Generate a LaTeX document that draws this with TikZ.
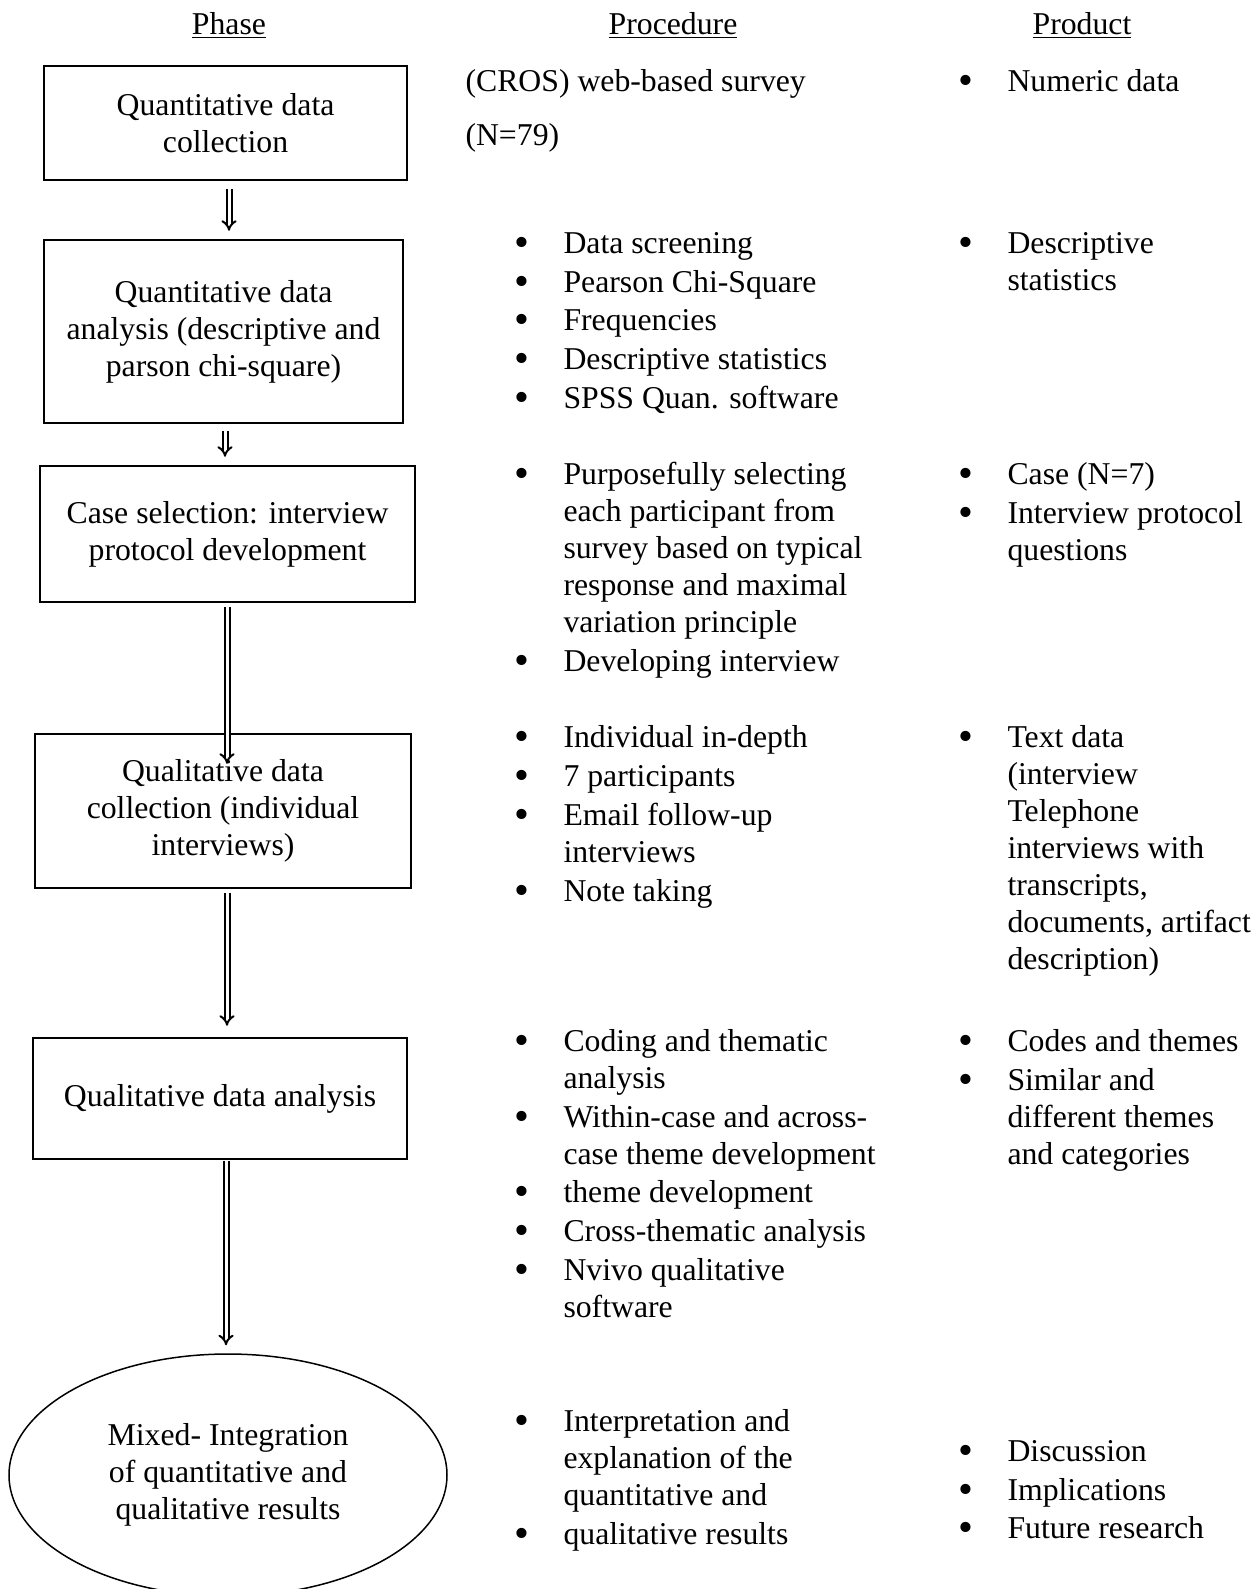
\documentclass[tikz,border=0pt]{standalone}
\usepackage{fontspec}
\setmainfont{Liberation Serif}
\usepackage{tikz}
\usetikzlibrary{arrows.meta, positioning, shapes.geometric, calc}
\newdimen\pxu
\pxu=0.4pt
\newcommand{\bl}{\llap{\raisebox{-1.2pt}{\fontsize{17pt}{17pt}\selectfont\textbullet}\hspace{13.6pt}}}

\begin{document}
\begin{tikzpicture}[x=0.4pt, y=-0.4pt,
    font=\fontsize{12.7pt}{14.8pt}\selectfont,
    phasebox/.style={draw, line width=1pt, align=center, inner sep=0pt},
    lst/.style={align=left, inner sep=0pt, anchor=north west},
    dblarrow/.style={double, double distance=1.2pt, line width=0.8pt, -{Implies[scale=1.3]}}]
  \useasboundingbox (0,0) rectangle (1255,1589);

  % Kopfzeile
  \node[anchor=base] (hphase) at (229,34) {\underline{Phase}};
  \node[anchor=base] (hproc) at (673,34) {\underline{Procedure}};
  \node[anchor=base] (hprod) at (1082,34) {\underline{Product}};

  % Phasen
  \node[phasebox, minimum width=363*\pxu, minimum height=114*\pxu] (b1) at (225.5,123)
    {Quantitative data\\collection};
  \node[phasebox, minimum width=359*\pxu, minimum height=183*\pxu] (b2) at (223.5,331.5)
    {Quantitative data\\analysis (descriptive and\\parson chi-square)};
  \node[phasebox, minimum width=375*\pxu, minimum height=136*\pxu] (b3) at (227.5,534)
    {Case selection: interview\\protocol development};
  \node[phasebox, minimum width=376*\pxu, minimum height=154*\pxu] (b4) at (223,811)
    {Qualitative data\\collection (individual\\interviews)};
  \node[phasebox, minimum width=374*\pxu, minimum height=121*\pxu] (b5) at (220,1098.5)
    {Qualitative data analysis};
  \node[ellipse, draw, line width=0.6pt, align=center, inner sep=0pt,
        minimum width=438*\pxu, minimum height=242*\pxu] (mix) at (228,1475)
    {Mixed- Integration\\of quantitative and\\qualitative results};

  % Pfeile
  \draw[dblarrow] ($(b1.south)+(3.5,8)$) -- ($(b2.north)+(5.5,-8)$);
  \draw[dblarrow] ($(b2.south)+(1.5,7)$) -- ($(b3.north)+(-2.5,-8)$);
  \draw[dblarrow] ($(b3.south)+(-0.5,4)$) -- ($(b4.north)+(4,31)$);
  \draw[dblarrow] ($(b4.south)+(4,4)$) -- ($(b5.north)+(7,-11)$);
  \draw[dblarrow] ($(b5.south)+(6,1)$) -- ($(mix.north)+(-2,-8)$);

  % Vorgehen (erste Grundlinie minus 26)
  \node[anchor=base west, inner sep=0pt] (p1a) at (465,91) {(CROS) web-based survey};
  \node[anchor=base west, inner sep=0pt] (p1b) at (465,145) {(N=79)};
  \node[lst] (p2) at (563,227) {\strut\bl Data screening\\[0.7pt]
    \bl Pearson Chi-Square\\[0.7pt] \bl Frequencies\\[0.7pt]
    \bl Descriptive statistics\\[0.7pt] \bl SPSS Quan. software};
  \node[lst] (p3) at (563,458) {\strut\bl Purposefully selecting\\
    each participant from\\ survey based on typical\\ response and maximal\\
    variation principle\\[0.7pt] \bl Developing interview};
  \node[lst] (p4) at (563,721) {\strut\bl Individual in-depth\\[1pt]
    \bl 7 participants\\[0.7pt] \bl Email follow-up\\ interviews\\[0.7pt]
    \bl Note taking};
  \node[lst] (p5) at (563,1025) {\strut\bl Coding and thematic\\ analysis\\[0.7pt]
    \bl Within-case and across-\\ case theme development\\[0.7pt]
    \bl theme development\\[0.7pt] \bl Cross-thematic analysis\\[0.7pt]
    \bl Nvivo qualitative\\ software};
  \node[lst] (p6) at (563,1405) {\strut\bl Interpretation and\\ explanation of the\\
    quantitative and\\[0.7pt] \bl qualitative results};

  % Ergebnis
  \node[anchor=base west, inner sep=0pt] (r1) at (1007,91) {\bl Numeric data};
  \node[lst] (r2) at (1007,227) {\strut\bl Descriptive\\ statistics};
  \node[lst] (r3) at (1007,458) {\strut\bl Case (N=7)\\[1pt] \bl Interview protocol\\ questions};
  \node[lst] (r4) at (1007,721) {\strut\bl Text data\\ (interview\\ Telephone\\
    interviews with\\ transcripts,\\ documents, artifact\\ description)};
  \node[lst] (r5) at (1007,1025) {\strut\bl Codes and themes\\[0.7pt] \bl Similar and\\
    different themes\\ and categories};
  \node[lst] (r6) at (1007,1435) {\strut\bl Discussion\\[0.7pt] \bl Implications\\[0.7pt]
    \bl Future research};
\end{tikzpicture}
\end{document}
